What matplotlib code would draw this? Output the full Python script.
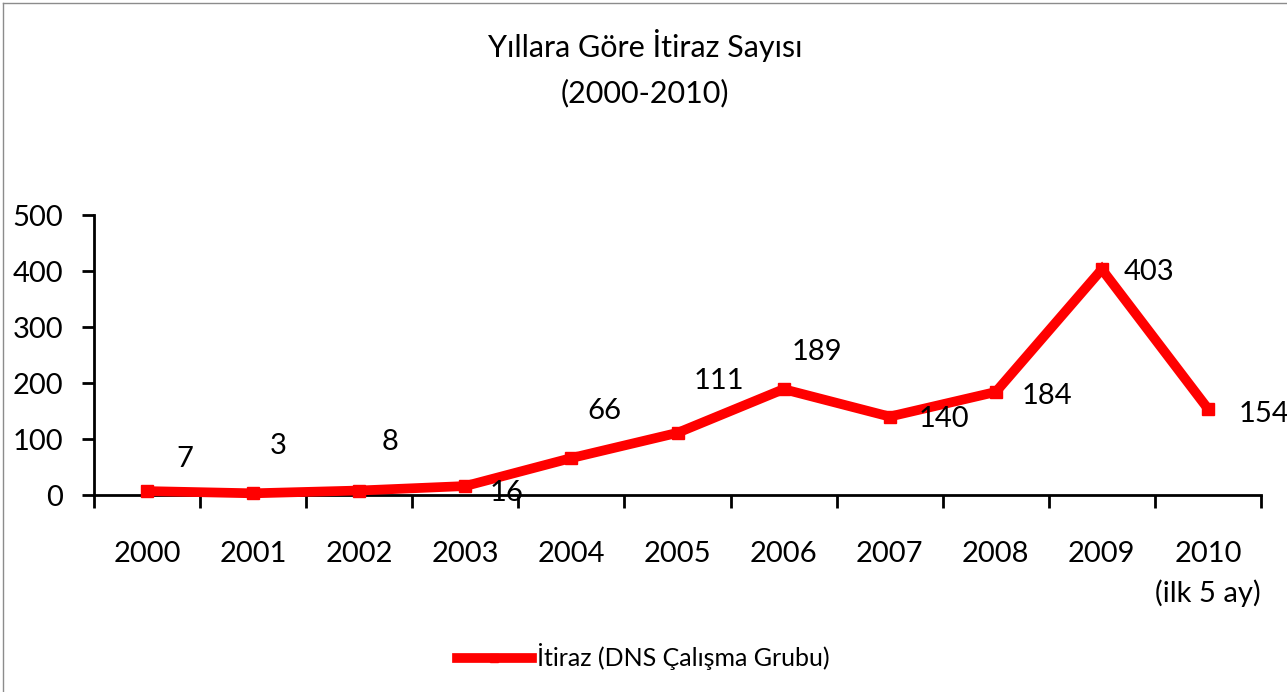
import matplotlib
matplotlib.use("Agg")
import matplotlib.pyplot as plt
from matplotlib.lines import Line2D

plt.rcParams['font.family'] = ['Lato', 'DejaVu Sans']

years = ["2000", "2001", "2002", "2003", "2004", "2005", "2006", "2007", "2008", "2009", "2010\n(ilk 5 ay)"]
values = [7, 3, 8, 16, 66, 111, 189, 140, 184, 403, 154]
series_name = "İtiraz (DNS Çalışma Grubu)"

# label offsets in points (style only)
label_offsets = [(27, 23), (18, 34), (22, 35), (30, -5), (24, 34), (30, 37),
                 (24, 27), (39, -2), (37, -3), (34, -2), (40, -4)]

W, H = 1287, 692
fig = plt.figure(figsize=(W / 100, H / 100), dpi=100)
ax = fig.add_axes([94 / W, 1 - 495 / H, (1261 - 94) / W, (495 - 215) / H])

x = list(range(len(values)))
ax.plot(x, values, color='#FF0000', lw=7, marker='s', ms=8, solid_joinstyle='miter',
        label=series_name, clip_on=False, zorder=3)

for xi, v, (dx, dy) in zip(x, values, label_offsets):
    ax.annotate(str(v), (xi, v), xytext=(dx, dy), textcoords='offset points',
                ha='center', va='center', fontsize=21, color='black')

ax.set_xlim(-0.5, len(values) - 0.5)
ax.set_ylim(0, 500)
ax.set_yticks([0, 100, 200, 300, 400, 500])
ax.set_xticks(x)
ax.set_xticklabels(years, linespacing=1.55)
ax.set_xticks([i - 0.5 for i in range(len(values) + 1)], minor=True)
ax.tick_params(axis='x', which='major', length=0, pad=33, labelsize=21)
ax.tick_params(axis='x', which='minor', length=9, width=2, direction='out')
ax.tick_params(axis='y', length=9, width=2, direction='out', pad=13, labelsize=21)

for s in ['top', 'right']:
    ax.spines[s].set_visible(False)
for s in ['left', 'bottom']:
    ax.spines[s].set_linewidth(2)

fig.text(645 / W, 1 - 45 / H, "Yıllara Göre İtiraz Sayısı", ha='center', va='center', fontsize=22)
fig.text(645 / W, 1 - 93 / H, "(2000-2010)", ha='center', va='center', fontsize=22)

handle = Line2D([], [], color='#FF0000', lw=7, marker='s', ms=6)
fig.legend([handle], [series_name], loc='center', bbox_to_anchor=(643 / W, 1 - 657 / H),
           frameon=False, fontsize=18, handlelength=3.0, handletextpad=0.2)

# outer chart border
fig.add_artist(Line2D([3 / W, 3 / W], [0, 1 - 3 / H], transform=fig.transFigure, color='#8c8c8c', lw=1))
fig.add_artist(Line2D([3 / W, 1], [1 - 3 / H, 1 - 3 / H], transform=fig.transFigure, color='#8c8c8c', lw=1))

fig.savefig("out.png", dpi=100)
